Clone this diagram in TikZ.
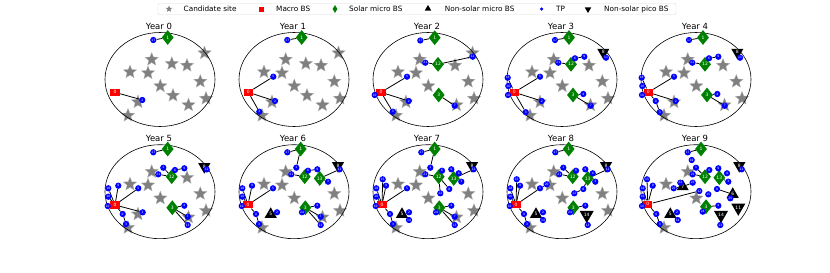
\documentclass[tikz,border=0pt]{standalone}
\usepackage{fontspec}
\setmainfont{DejaVu Sans}
\usetikzlibrary{shapes.geometric}
\pgfdeclarelayer{st}\pgfdeclarelayer{bg}\pgfsetlayers{st,bg,main}
\definecolor{mgreen}{RGB}{0,128,0}
\definecolor{mblue}{RGB}{0,0,255}
\tikzset{
 cand/.style={star, star points=5, star point ratio=2.3, fill=gray, draw=gray!60!white, line width=0.3pt, minimum size=14pt, inner sep=0pt},
 macro/.style={rectangle, fill=red, minimum width=9.5pt, minimum height=7.5pt, inner sep=0pt, text=white, font=\fontsize{4.5}{4.5}\selectfont},
 solar/.style={diamond, aspect=0.8, fill=mgreen, minimum width=12pt, minimum height=15pt, inner sep=0pt, text=white, font=\fontsize{4.5}{4.5}\selectfont},
 nsm/.style={regular polygon, regular polygon sides=3, fill=black, minimum size=14pt, inner sep=0pt, text=white, font=\fontsize{4.5}{4.5}\selectfont},
 pico/.style={regular polygon, regular polygon sides=3, shape border rotate=180, fill=black, minimum size=14pt, inner sep=0pt, text=white, font=\fontsize{4.5}{4.5}\selectfont},
 tp/.style={circle, fill=mblue, minimum size=6.3pt, inner sep=0pt, text=white, font=\fontsize{3}{3}\selectfont},
 link/.style={draw=black, line width=0.8pt},
 frm/.style={ellipse, draw=black, line width=0.6pt, minimum width=110pt, minimum height=94pt, inner sep=0pt},
 ttl/.style={font=\fontsize{8.5}{10}\selectfont, inner sep=0pt},
 legtxt/.style={anchor=west, font=\fontsize{7.3}{9}\selectfont, inner sep=0pt},
}
\def\cposa{44.5,-26.5}
\def\cposb{-8.3,-20}
\def\cposc{11.8,-15.8}
\def\cposd{27,-14}
\def\cpose{-30,-7.5}
\def\cposf{-12,-6.5}
\def\cposg{40.3,2}
\def\cposh{0.3,6.5}
\def\cposi{13,16}
\def\cposj{46,19}
\def\cposk{28.5,25.5}
\def\cposl{-22,22.5}
\def\cposm{-32,36}
\newcommand\stars[1]{\begin{pgfonlayer}{st}\foreach \n in {#1}{\edef\tmp{\csname cpos\n\endcsname}\node[cand] (s\n) at (\tmp) {};}\end{pgfonlayer}}
\newcommand\tp[4]{\node[tp] (#1) at (#2) {#3};\begin{pgfonlayer}{bg}\draw[link] (#4) -- (#1);\end{pgfonlayer}}
\newcommand\tpn[3]{\node[tp] (#1) at (#2) {#3};}
\newcommand\pfr[1]{\node[ttl] (title) at (-1,-53.5) {#1};\node[frm] (frame) at (0,0) {};}
\begin{document}
\begin{tikzpicture}[x=1pt,y=-1pt]
\useasboundingbox (0,0) rectangle (830,273);
% legend
\node[draw=gray!30, line width=0.4pt, rounded corners=1pt, minimum width=518pt, minimum height=11pt, inner sep=0pt] (legbox) at (417,9) {};
\node[cand, minimum size=7pt, draw=none] (lg1) at (169,9) {};
\node[legtxt] (lt1) at (183.5,9) {Candidate site};
\node[macro, minimum width=5pt, minimum height=5pt] (lg2) at (261.7,9) {};
\node[legtxt] (lt2) at (276,9) {Macro BS};
\node[solar, minimum width=5pt, minimum height=8pt] (lg3) at (335,9) {};
\node[legtxt] (lt3) at (349,9) {Solar micro BS};
\node[nsm, minimum size=7.5pt] (lg4) at (428,8.7) {};
\node[legtxt] (lt4) at (444.7,9) {Non-solar micro BS};
\node[tp, minimum size=3.5pt] (lg5) at (541.5,9) {};
\node[legtxt] (lt5) at (556,9) {TP};
\node[pico, minimum size=7.5pt] (lg6) at (588,9.3) {};
\node[legtxt] (lt6) at (604,9) {Non-solar pico BS};

% ---------------- Year 0
\begin{scope}[shift={(160,79.5)},name prefix=y0-]
\pfr{Year 0}
\stars{a,b,c,d,e,f,g,h,i,j,k,l,m}
\node[macro] (M) at (-45,12.8) {0};
\node[solar] (D1) at (7.7,-42) {1};
\tp{t1}{-6.7,-39.5}{17}{D1}
\tp{t2}{-17.7,20.5}{2}{M}
\end{scope}

% ---------------- Year 1
\begin{scope}[shift={(294,79.5)},name prefix=y1-]
\pfr{Year 1}
\stars{a,b,c,d,e,f,g,h,i,j,k,l,m}
\node[macro] (M) at (-45.7,12.8) {0};
\node[solar] (D1) at (7.7,-42) {1};
\tp{t1}{-6.7,-39.5}{17}{D1}
\tp{t2}{-20.7,-2.8}{5}{M}
\tp{t3}{-19,21.5}{2}{M}
\tp{t4}{-34.7,32.2}{3}{M}
\end{scope}

% ---------------- Year 2
\begin{scope}[shift={(428,79.5)},name prefix=y2-]
\pfr{Year 2}
\stars{a,b,d,e,f,g,h,j,k,l,m}
\node[macro] (M) at (-47,12.8) {0};
\node[solar] (D1) at (6.7,-41.8) {1};
\node[solar] (D12) at (10,-15.2) {12};
\node[solar] (D3) at (10.7,15.5) {3};
\tp{t1}{-7.7,-39}{17}{D1}
\tp{t2}{-2.7,-16.8}{21}{D12}
\tp{t3}{44.7,-22.8}{11}{D12}
\tp{t4}{26.7,26.2}{7}{D3}
\tp{t5}{-21,-2.8}{5}{M}
\tp{t6}{-19.3,21.5}{2}{M}
\tp{t7}{-35.3,32.2}{3}{M}
\tp{t8}{-53.3,15.5}{10}{M}
\end{scope}

% ---------------- Year 3
\begin{scope}[shift={(562,79.5)},name prefix=y3-]
\pfr{Year 3}
\stars{b,d,e,f,g,h,j,k,l,m}
\node[macro] (M) at (-47.7,12.8) {0};
\node[solar] (D1) at (7,-42) {1};
\node[solar] (D12) at (9,-15.2) {12};
\node[solar] (D3) at (11,15.5) {3};
\node[pico] (P8) at (41.3,-27.2) {8};
\tp{t1}{-7,-39.5}{17}{D1}
\tp{tp8}{44,-21.8}{11}{P8}
\tp{t2}{-3.7,-16.8}{21}{D12}
\tp{t3}{13,-21.2}{6}{D12}
\tp{t4}{22.3,-22.8}{9}{t3}
\tp{t5}{21.3,14.5}{4}{D3}
\tp{t6}{28.7,26.2}{7}{D3}
\tp{t7}{-22,-2.8}{5}{M}
\tp{t8}{-20.3,21.5}{2}{M}
\tp{t9}{-36.3,32.7}{3}{M}
\tp{t10}{-54,15.5}{10}{M}
\tp{t11}{-53.7,6.5}{16}{M}
\tp{t12}{-54.3,-1.8}{18}{M}
\end{scope}

% ---------------- Year 4
\begin{scope}[shift={(696,79.5)},name prefix=y4-]
\pfr{Year 4}
\stars{b,d,e,f,g,h,j,k,l,m}
\node[macro] (M) at (-47.7,12.8) {0};
\node[solar] (D1) at (7,-42) {1};
\node[solar] (D12) at (9,-15.2) {12};
\node[solar] (D3) at (11,15.5) {3};
\node[pico] (P8) at (41.3,-27.2) {8};
\tp{t1}{-7,-39.5}{17}{D1}
\tp{tp8}{44,-21.8}{11}{P8}
\tp{t2}{-3.7,-16.8}{21}{D12}
\tp{t3}{13,-21.2}{6}{D12}
\tp{t4}{22.3,-22.8}{9}{t3}
\tp{t5}{21.3,14.5}{4}{D3}
\tp{t6}{28.7,26.2}{7}{D3}
\tp{t7}{-22,-2.8}{5}{M}
\tp{t13}{-40.3,21.5}{0}{M}
\tp{t8}{-20.3,21.5}{2}{M}
\tp{t9}{-36.3,32.7}{3}{t13}
\tp{t10}{-54,15.5}{10}{M}
\tp{t11}{-53.7,6.5}{16}{M}
\tp{t12}{-54.3,-1.8}{18}{M}
\end{scope}

% ---------------- Year 5
\begin{scope}[shift={(160,191.7)},name prefix=y5-]
\pfr{Year 5}
\stars{b,d,e,f,g,h,j,k,l,m}
\node[macro] (M) at (-45,13.3) {0};
\node[solar] (D1) at (7.7,-42.7) {1};
\node[solar] (D12) at (11.7,-15) {12};
\node[solar] (D3) at (12.3,16) {3};
\node[pico] (P8) at (44.3,-25) {8};
\tp{t1}{-6.7,-39.4}{17}{D1}
\tp{tp8}{46.7,-22.3}{11}{P8}
\tp{t2}{-1.7,-17.4}{21}{D12}
\tp{t14}{3.3,-24}{1}{D12}
\tp{t3}{15,-21.7}{6}{D12}
\tp{t4}{24.3,-23.4}{9}{t3}
\tp{t5}{24.3,14}{4}{D3}
\tp{t6}{27.7,25}{7}{D3}
\tp{t15}{27.7,33.3}{13}{D3}
\tp{t7}{-21.7,-3.4}{5}{M}
\tp{t16}{-41.7,-6}{9}{M}
\tp{t12}{-51.7,-3.4}{18}{M}
\tp{t11}{-51.7,5}{16}{M}
\tp{t10}{-52.3,14.3}{10}{M}
\tp{t13}{-37.3,22.3}{0}{M}
\tp{t8}{-17.3,20.6}{2}{M}
\tp{t9}{-34,32.3}{3}{t13}
\end{scope}

% ---------------- Year 6
\begin{scope}[shift={(294,191.7)},name prefix=y6-]
\pfr{Year 6}
\stars{b,e,f,g,h,j,k,m}
\node[macro] (M) at (-46,13) {0};
\node[solar] (D1) at (6.7,-42.7) {1};
\node[solar] (D12) at (10.7,-15) {12};
\node[solar] (D13) at (25.7,-13.3) {13};
\node[solar] (D3) at (11.3,16) {3};
\node[pico] (P8) at (44,-26) {8};
\node[nsm] (N5) at (-23.3,22.6) {5};
\tp{t1}{-6.7,-39.4}{17}{D1}
\tp{t14}{2.3,-24}{1}{D1}
\tp{tp8}{45.7,-22.4}{11}{D13}
\tp{t2}{-2.7,-17.4}{21}{D12}
\tp{t3}{14,-21}{6}{D12}
\tp{t4}{23.3,-22.4}{9}{t3}
\tp{t17}{34,-10}{3}{D13}
\tp{t8}{-17,20.6}{2}{N5}
\tp{t5}{23.3,14}{4}{D3}
\tp{t18}{8,20.6}{24}{D3}
\tp{t6}{26.7,25}{7}{D3}
\tp{t15}{26.7,33.3}{13}{D3}
\tp{t7}{-21,-3.4}{5}{M}
\tp{t16}{-42,-6}{9}{M}
\tp{t12}{-51.7,-3.4}{18}{M}
\tp{t11}{-51.7,5}{16}{M}
\tp{t10}{-52.3,14.3}{10}{M}
\tp{t13}{-38,22.3}{0}{M}
\tp{t9}{-35,32.3}{3}{t13}
\end{scope}

% ---------------- Year 7
\begin{scope}[shift={(428,191.7)},name prefix=y7-]
\pfr{Year 7}
\stars{b,e,f,g,h,j,k,m}
\node[macro] (M) at (-46,13) {0};
\node[solar] (D1) at (6.7,-42.7) {1};
\node[solar] (D12) at (10.7,-15) {12};
\node[solar] (D13) at (25.7,-13.3) {13};
\node[solar] (D3) at (11.3,16) {3};
\node[pico] (P8) at (44,-26) {8};
\node[nsm] (N5) at (-26,22.6) {5};
\tp{t1}{-6.7,-39.4}{17}{D1}
\tp{t14}{2.3,-24}{1}{D1}
\tp{tp8}{45.7,-22.4}{11}{D13}
\tp{t2}{-2.7,-17.4}{21}{D12}
\tp{t3}{14,-21}{6}{D12}
\tp{t4}{23.3,-22.4}{9}{D13}
\tp{t19}{30.7,-18.4}{4}{D13}
\tp{t17}{33.3,-10}{3}{D13}
\tp{t20}{21.3,-2.7}{8}{D12}
\tp{t21}{12.3,1.6}{12}{D12}
\tp{t8}{-19,20.6}{2}{N5}
\tp{t22}{-19,28.3}{14}{N5}
\tp{t5}{23.3,14}{4}{D3}
\tp{t18}{8,20.6}{24}{D3}
\tp{t6}{26.7,25}{7}{D3}
\tp{t15}{26.7,33.3}{13}{D3}
\tp{t7}{-21,-3.4}{5}{M}
\tp{t23}{-45.3,-12.4}{15}{M}
\tp{t16}{-42,-6}{9}{M}
\tp{t12}{-51.7,-3.4}{18}{M}
\tp{t11}{-51.7,5}{16}{M}
\tp{t10}{-52.3,14.3}{10}{M}
\tp{t13}{-38,22.3}{0}{M}
\tp{t9}{-35,32.3}{3}{t13}
\end{scope}

% ---------------- Year 8
\begin{scope}[shift={(562,191.7)},name prefix=y8-]
\pfr{Year 8}
\stars{b,e,f,g,h,j,m}
\node[macro] (M) at (-46,13) {0};
\node[solar] (D1) at (6.7,-42.7) {1};
\node[solar] (D12) at (10.7,-15) {12};
\node[solar] (D13) at (25.7,-13.3) {13};
\node[solar] (D3) at (11.3,16) {3};
\node[pico] (P8) at (44,-26) {8};
\node[nsm] (N5) at (-26,22.6) {5};
\node[pico] (P14) at (24.7,23.3) {14};
\tp{t1}{-6.7,-39.4}{17}{D1}
\tp{t14}{1.3,-24}{1}{D12}
\tp{tp8}{45.7,-22.4}{11}{D13}
\tp{t2}{-2.7,-17.4}{21}{D12}
\tp{t3}{14,-21}{6}{D12}
\tp{t4}{23.3,-22.4}{9}{D13}
\tp{t19}{30.7,-18.4}{4}{D13}
\tp{t17}{33.3,-10}{3}{D13}
\tp{t20}{21.3,-2.7}{8}{D13}
\tp{t21}{12.3,1.6}{12}{t20}
\tp{t8}{-19,20.6}{2}{N5}
\tp{t22}{-19,28.3}{14}{N5}
\tp{t5}{23.3,14}{4}{D3}
\tp{t18}{8,20.6}{24}{D3}
\tp{t15}{25.7,33.3}{13}{P14}
\tp{t7}{-22,-3.4}{5}{M}
\tp{t24}{-15.3,-7.4}{20}{t7}
\tp{t23}{-45.3,-12.4}{15}{M}
\tp{t16}{-42,-6}{9}{M}
\tp{t12}{-51.7,-3.4}{18}{M}
\tp{t11}{-51.7,5}{16}{M}
\tp{t10}{-52.3,14.3}{10}{M}
\tp{t13}{-38,22.3}{0}{M}
\tp{t9}{-35,32.3}{3}{t13}
\end{scope}

% ---------------- Year 9
\begin{scope}[shift={(696,191.7)},name prefix=y9-]
\pfr{Year 9}
\stars{b,e,h,m}
\node[macro] (M) at (-48.3,12.6) {0};
\node[solar] (D1) at (5,-42.7) {1};
\node[solar] (D12) at (9,-15) {12};
\node[solar] (D13) at (23.3,-14) {13};
\node[solar] (D3) at (10,15) {3};
\node[pico] (P8) at (43.3,-26) {8};
\node[nsm] (N7) at (-13.3,-5) {7};
\node[nsm] (N6) at (36.7,2.6) {6};
\node[nsm] (N5) at (-25.7,22.6) {5};
\node[pico] (P14) at (25,23.3) {14};
\node[pico] (P11) at (42.3,16) {11};
\tp{t1}{-8.3,-39.4}{17}{D1}
\tpn{t25}{-4.3,-31.7}{19}
\tp{t14}{0,-24}{1}{D12}
\tp{tp8}{45.7,-22.4}{11}{P8}
\tp{t2}{-3.3,-17.4}{21}{D12}
\tp{t3}{13.3,-21.7}{6}{D12}
\tp{t4}{22.3,-23.4}{9}{D13}
\tp{t19}{31,-18.4}{4}{D13}
\tp{t17}{32.3,-10}{3}{D13}
\tp{t26}{-22.3,-3.4}{20}{N7}
\tp{t27}{-15.7,-9}{22}{N7}
\tp{t28}{-3.3,-9}{23}{N7}
\tp{t29}{3.3,-0.7}{12}{M}
\tpn{t30}{12.3,2.6}{15}
\tp{t20}{21,-2.7}{8}{N6}
\tp{t31}{34.3,6.6}{25}{N6}
\tp{t5}{22.3,14}{4}{D3}
\tp{t18}{6.7,20}{24}{D3}
\tp{t15}{24.3,33.3}{13}{P14}
\tp{t8}{-19,20.6}{2}{N5}
\tp{t22}{-18.3,28.3}{14}{N5}
\tp{t23}{-49,-12.4}{15}{M}
\tp{t16}{-43.3,-6}{9}{M}
\tp{t12}{-53.3,-3.4}{18}{M}
\tp{t11}{-53.3,5}{16}{M}
\tp{t10}{-54,14.3}{10}{M}
\tp{t13}{-39.7,22.3}{0}{M}
\tp{t9}{-36.3,32.3}{3}{t13}
\end{scope}
\end{tikzpicture}
\end{document}
